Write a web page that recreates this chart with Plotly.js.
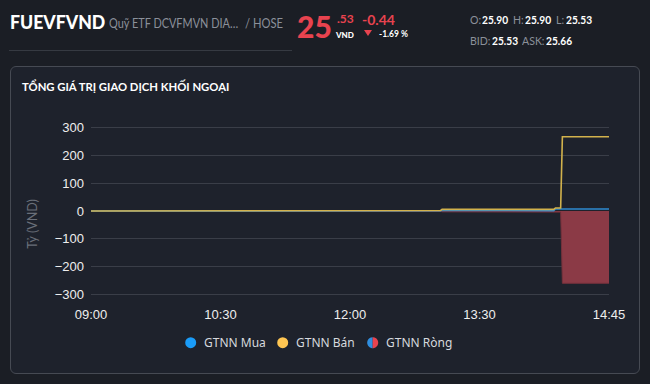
<!DOCTYPE html>
<html>
<head>
<meta charset="utf-8">
<script src="https://cdn.plot.ly/plotly-3.0.1.min.js"></script>
<style>
  html, body { margin:0; padding:0; background:#1b1e25; width:650px; height:384px; overflow:hidden; }
  .t { position:absolute; white-space:nowrap; line-height:1; font-family:"Lato","Noto Sans",sans-serif; transform-origin:left top; }
  #panel { position:absolute; left:10px; top:66px; width:628px; height:306px; border:1px solid #464a53; border-radius:6px; background:#1e222c; }
  #chart { position:absolute; left:0; top:0; width:650px; height:384px; }
  .lb { color:#8b909a; font-size:12px; transform:scaleX(0.88); }
  .vl { color:#ffffff; font-size:12px; font-weight:700; transform:scaleX(0.85); }
</style>
</head>
<body>
<div class="t" style="left:10px;top:12px;font-size:19px;font-weight:900;color:#ffffff;transform:scaleX(0.93);">FUEVFVND</div>
<div class="t" style="left:109px;top:17px;font-size:13px;color:#8b909a;transform:scaleX(0.84);">Quỹ ETF DCVFMVN DIA…</div>
<div class="t" style="left:245px;top:17px;font-size:13px;color:#8b909a;transform:scaleX(0.86);">/ HOSE</div>
<div style="position:absolute;left:9px;top:50px;width:283px;height:1px;background:#363a42;"></div>
<div class="t" style="left:297px;top:11px;font-size:30px;font-weight:900;color:#e8434f;">25</div>
<div class="t" style="left:337px;top:13px;font-size:12px;font-weight:700;color:#e8434f;">.53</div>
<div class="t" style="left:336px;top:31px;font-size:8px;font-weight:900;color:#ffffff;">VND</div>
<div class="t" style="left:362px;top:13px;font-size:14px;font-weight:700;color:#e8434f;">-0.44</div>
<div style="position:absolute;left:364px;top:30px;width:0;height:0;border-left:4.5px solid transparent;border-right:4.5px solid transparent;border-top:6px solid #e8434f;"></div>
<div class="t" style="left:379px;top:30px;font-size:8.5px;font-weight:700;color:#ffffff;">-1.69 %</div>
<div class="t lb" style="left:470px;top:14px;">O:</div>
<div class="t vl" style="left:482px;top:14px;">25.90</div>
<div class="t lb" style="left:513px;top:14px;">H:</div>
<div class="t vl" style="left:525px;top:14px;">25.90</div>
<div class="t lb" style="left:556px;top:14px;">L:</div>
<div class="t vl" style="left:566px;top:14px;">25.53</div>
<div class="t lb" style="left:470px;top:35px;">BID:</div>
<div class="t vl" style="left:492px;top:35px;">25.53</div>
<div class="t lb" style="left:522px;top:35px;">ASK:</div>
<div class="t vl" style="left:546px;top:35px;">25.66</div>
<div id="panel"></div>
<div id="chart"></div>
<script>
// ---- data ----
const chartTitle = 'TỔNG GIÁ TRỊ GIAO DỊCH KHỐI NGOẠI';
const yTitle = 'Tỷ (VND)';
const tickLabels = ['09:00', '10:30', '12:00', '13:30', '14:45'];
const yTicks = [-300, -200, -100, 0, 100, 200, 300];
const times = ['09:00', '10:13', '10:14', '13:03', '13:04', '13:57', '13:58', '14:13', '14:14', '14:17', '14:18', '14:45'];
const muaValues = [0, 0, 1, 1, 3, 3, 1, 1, 7, 7, 7, 7];
const banValues = [0, 0, 2, 2, 6, 6, 6, 6, 11, 11, 267, 267];
const rongValues = [0, 0, -1, -1, -3, -3, -5, -5, -4, -4, -260, -260];
const seriesNames = ['GTNN Mua', 'GTNN Bán', 'GTNN Ròng'];

// ---- x mapping: the axis places its labelled times at equal spacing ----
function toMin(t) { const p = t.split(':'); return (+p[0]) * 60 + (+p[1]); }
const tickMin = tickLabels.map(toMin);
function toSlot(t) {
  const m = toMin(t);
  for (let i = 0; i < tickMin.length - 1; i++) {
    if (m <= tickMin[i + 1]) return i + (m - tickMin[i]) / (tickMin[i + 1] - tickMin[i]);
  }
  return tickMin.length - 1;
}
const xs = times.map(toSlot);

const W = 650, H = 384, L = 91, R = 41, T = 122, B = 84;
const pw = W - L - R, ph = H - T - B;
const px = v => (v - L) / pw;
const py = v => (H - B - v) / ph;

const traces = [
  { x: xs, y: rongValues, name: seriesNames[2], type: 'scatter', mode: 'lines', fill: 'tozeroy',
    fillcolor: 'rgba(139,58,70,1)', line: { color: '#74313b', width: 1 }, showlegend: false },
  { x: xs, y: muaValues, name: seriesNames[0], type: 'scatter', mode: 'lines',
    line: { color: '#2e8ad0', width: 1.6 }, showlegend: false },
  { x: xs, y: banValues, name: seriesNames[1], type: 'scatter', mode: 'lines',
    line: { color: '#d2b24c', width: 1.6 }, showlegend: false }
];

// legend drawn manually (circle icons)
const legendY = 342.7, r = 5.5;
const legendIcons = [190.7, 282.7, 372.7];
const legendTextX = [201.5, 294, 384.3];
function circlePath(cx, cy, rad, a0, a1) {
  let s = '';
  const n = 24;
  for (let k = 0; k <= n; k++) {
    const a = a0 + (a1 - a0) * k / n;
    const X = px(cx + rad * Math.cos(a)), Y = py(cy + rad * Math.sin(a));
    s += (k === 0 ? 'M' : 'L') + X + ',' + Y;
  }
  return s + 'Z';
}
const shapes = [
  { type: 'circle', xref: 'paper', yref: 'paper', x0: px(legendIcons[0] - r), x1: px(legendIcons[0] + r), y0: py(legendY + r), y1: py(legendY - r), fillcolor: '#1a9cf8', line: { width: 0 } },
  { type: 'circle', xref: 'paper', yref: 'paper', x0: px(legendIcons[1] - r), x1: px(legendIcons[1] + r), y0: py(legendY + r), y1: py(legendY - r), fillcolor: '#ffc652', line: { width: 0 } },
  { type: 'path', xref: 'paper', yref: 'paper', path: circlePath(legendIcons[2], legendY, r, Math.PI / 2, 3 * Math.PI / 2), fillcolor: '#2f8ee0', line: { width: 0 } },
  { type: 'path', xref: 'paper', yref: 'paper', path: circlePath(legendIcons[2], legendY, r, -Math.PI / 2, Math.PI / 2), fillcolor: '#e8434f', line: { width: 0 } }
];
const annotations = seriesNames.map((n, i) => ({
  text: n, xref: 'paper', yref: 'paper', x: px(legendTextX[i]), y: py(legendY), xanchor: 'left', yanchor: 'middle',
  showarrow: false, font: { family: 'Noto Sans, sans-serif', size: 12, color: '#d6d9de' }
}));
annotations.push({
  text: yTitle, xref: 'paper', yref: 'paper', x: px(31.7), y: py(224), xanchor: 'center', yanchor: 'middle',
  textangle: -90, showarrow: false, font: { family: 'Lato, sans-serif', size: 12.5, color: '#6a6f79' }
});

const layout = {
  width: W, height: H,
  margin: { l: L, r: R, t: T, b: B, pad: 0 },
  paper_bgcolor: 'rgba(0,0,0,0)', plot_bgcolor: 'rgba(0,0,0,0)',
  title: { text: chartTitle, xref: 'container', yref: 'container', x: 22 / W, y: 1 - 87 / H,
    xanchor: 'left', yanchor: 'middle', font: { family: 'Lato, sans-serif', size: 11.3, color: '#ffffff', weight: 'bold' } },
  showlegend: false,
  xaxis: { type: 'linear', range: [0, tickLabels.length - 1], tickvals: tickLabels.map((_, i) => i), ticktext: tickLabels,
    showgrid: false, zeroline: false, showline: false, ticks: '', ticklabelstandoff: 5,
    tickfont: { family: 'Liberation Sans, Arial, sans-serif', size: 13, color: '#eeeeee' }, fixedrange: true },
  yaxis: { range: [-320, 320], tickvals: yTicks, showgrid: true, gridcolor: '#3a3e48', gridwidth: 1,
    zeroline: false, showline: false, ticks: '', ticklabelstandoff: 6,
    tickfont: { family: 'Liberation Sans, Arial, sans-serif', size: 13, color: '#eeeeee' }, fixedrange: true },
  shapes: shapes,
  annotations: annotations
};
Plotly.newPlot('chart', traces, layout, { staticPlot: true, displayModeBar: false });
</script>
</body>
</html>
